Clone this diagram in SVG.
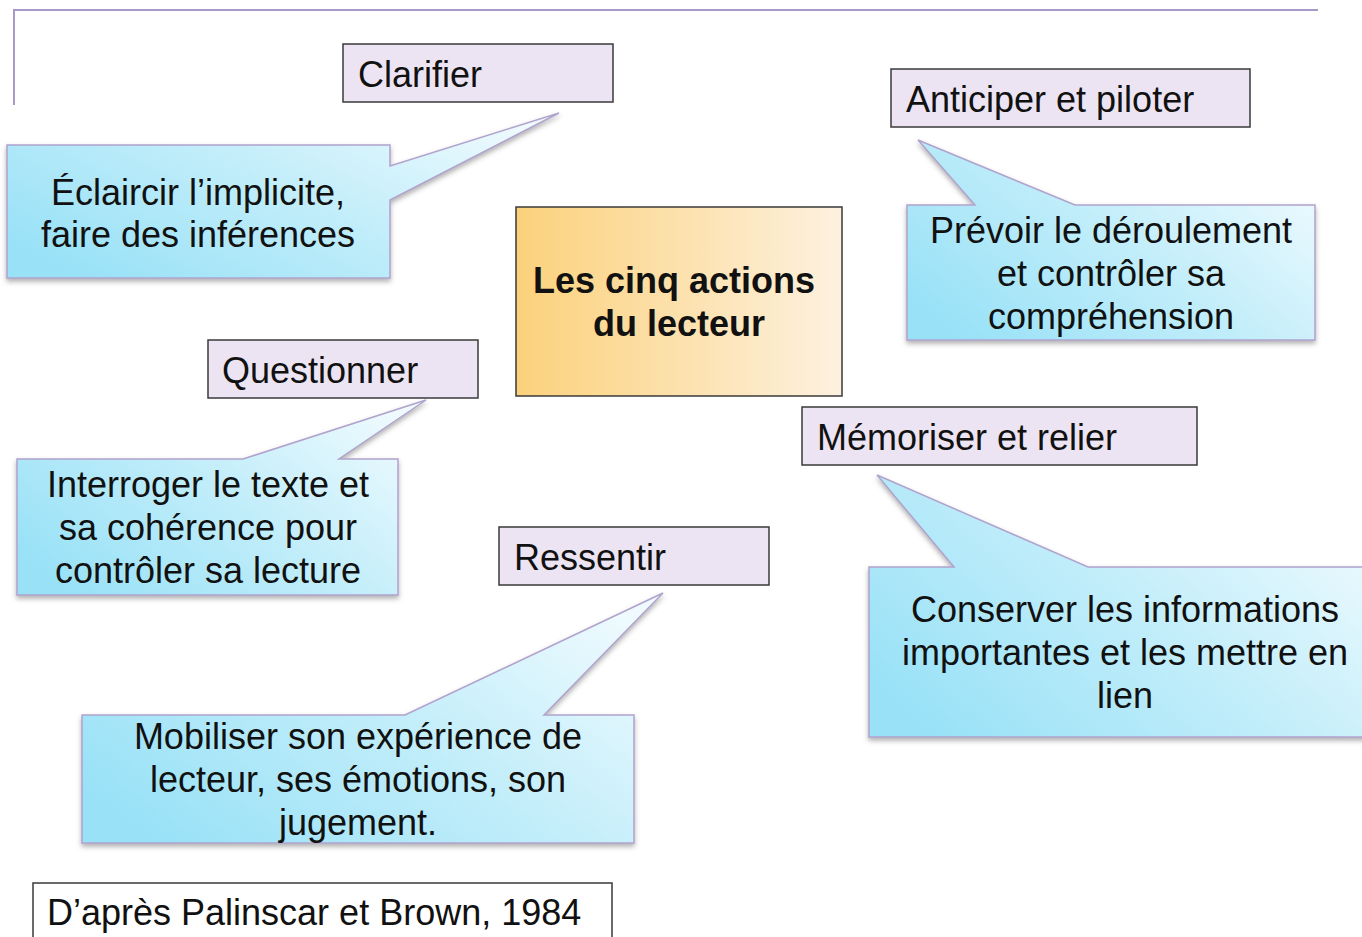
<svg xmlns="http://www.w3.org/2000/svg" width="1362" height="937" viewBox="0 0 1362 937">
<defs>
<linearGradient id="gBlue" x1="0" y1="0.8" x2="1" y2="0.2">
<stop offset="0" stop-color="#98e1f7"/>
<stop offset="0.55" stop-color="#c4eefa"/>
<stop offset="1" stop-color="#eefafe"/>
</linearGradient>
<linearGradient id="gOrange" x1="0" y1="0" x2="1" y2="0">
<stop offset="0" stop-color="#fbd17b"/>
<stop offset="1" stop-color="#fdf1df"/>
</linearGradient>
<filter id="sh" x="-10%" y="-10%" width="120%" height="130%">
<feDropShadow dx="0" dy="3" stdDeviation="2.5" flood-color="#555" flood-opacity="0.45"/>
</filter>
<style>
.call{fill:url(#gBlue);stroke:#b0a3cd;stroke-width:1.5;filter:url(#sh);}
.lab{fill:#ece4f3;stroke:#3a3a3a;stroke-width:1.5;}
.t{font-family:"Liberation Sans",Arial,sans-serif;font-size:36px;fill:#111;}
.c{text-anchor:middle;}
.b{font-weight:bold;}
</style>
</defs>
<rect width="1362" height="937" fill="#ffffff"/>
<g id="frame">
<path d="M14,105 V10 H1318" fill="none" stroke="#a899c6" stroke-width="2"/>
</g>
<g id="connectors"></g>
<g id="center">
<rect x="516" y="207" width="326" height="189" fill="url(#gOrange)" stroke="#3a3a3a" stroke-width="1.5"/>
<text class="t c b" x="674" y="293">Les cinq actions</text>
<text class="t c b" x="679" y="336">du lecteur</text>
</g>
<g id="clarifier">
<rect class="lab" x="343" y="44" width="270" height="58"/>
<text class="t" x="358" y="87">Clarifier</text>
</g>
<g id="callout-clarifier">
<path class="call" d="M7,145 H390 V166 L559,113 L390,200 V278 H7 Z"/>
<text class="t c" x="198" y="205">Éclaircir l’implicite,</text>
<text class="t c" x="198" y="247">faire des inférences</text>
</g>
<g id="anticiper">
<rect class="lab" x="891" y="69" width="359" height="58"/>
<text class="t" x="906" y="112">Anticiper et piloter</text>
</g>
<g id="callout-anticiper">
<path class="call" d="M907,205 H975 L918,140 L1075,205 H1315 V340 H907 Z"/>
<text class="t c" x="1111" y="243">Prévoir le déroulement</text>
<text class="t c" x="1111" y="286">et contrôler sa</text>
<text class="t c" x="1111" y="329">compréhension</text>
</g>
<g id="questionner">
<rect class="lab" x="208" y="340" width="270" height="58"/>
<text class="t" x="222" y="383">Questionner</text>
</g>
<g id="callout-questionner">
<path class="call" d="M17,459 H243 L426,400 L339,459 H398 V595 H17 Z"/>
<text class="t c" x="208" y="497">Interroger le texte et</text>
<text class="t c" x="208" y="540">sa cohérence pour</text>
<text class="t c" x="208" y="583">contrôler sa lecture</text>
</g>
<g id="memoriser">
<rect class="lab" x="802" y="407" width="395" height="58"/>
<text class="t" x="817" y="450">Mémoriser et relier</text>
</g>
<g id="callout-memoriser">
<path class="call" d="M869,567 H954 L877,475 L1088,567 H1368 V737 H869 Z"/>
<text class="t c" x="1125" y="622">Conserver les informations</text>
<text class="t c" x="1125" y="665">importantes et les mettre en</text>
<text class="t c" x="1125" y="708">lien</text>
</g>
<g id="ressentir">
<rect class="lab" x="499" y="527" width="270" height="58"/>
<text class="t" x="514" y="570">Ressentir</text>
</g>
<g id="callout-ressentir">
<path class="call" d="M82,715 H405 L663,593 L544,715 H634 V843 H82 Z"/>
<text class="t c" x="358" y="749">Mobiliser son expérience de</text>
<text class="t c" x="358" y="792">lecteur, ses émotions, son</text>
<text class="t c" x="358" y="835">jugement.</text>
</g>
<g id="source">
<rect x="33" y="883" width="579" height="62" fill="#ffffff" stroke="#3a3a3a" stroke-width="1.5"/>
<text class="t" x="47" y="925">D’après Palinscar et Brown, 1984</text>
</g>
</svg>
